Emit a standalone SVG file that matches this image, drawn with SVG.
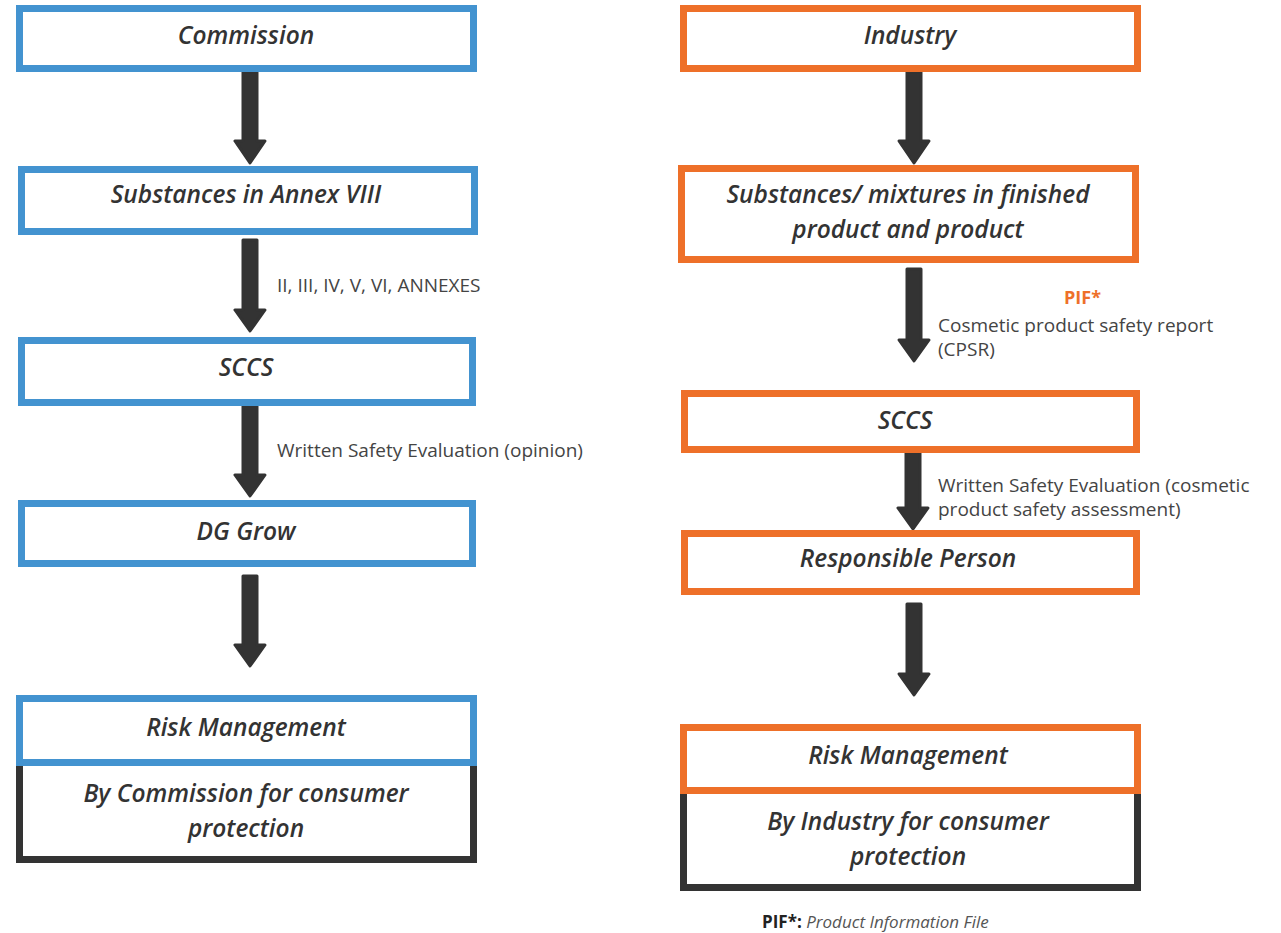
<svg xmlns="http://www.w3.org/2000/svg" width="1281" height="933" viewBox="0 0 1281 933">
<style>
.bg{fill:#ffffff}
.blue{fill:#ffffff;stroke:#4393d0;stroke-width:7}
.orange{fill:#ffffff;stroke:#ee7029;stroke-width:7}
.dark{fill:#ffffff;stroke:#333333;stroke-width:7}
.t{font-family:"Open Sans","Liberation Sans",sans-serif;font-style:italic;font-weight:600;font-size:24.5px;fill:#333333;text-anchor:middle}
.lbl{font-family:"Open Sans","Liberation Sans",sans-serif;font-size:19px;fill:#444444}
.pif{font-family:"Open Sans","Liberation Sans",sans-serif;font-size:18px;font-weight:700;fill:#ee7029}
.arrow{fill:#333333;stroke:#333333;stroke-width:3;stroke-linejoin:round}
</style>
<rect class="bg" x="0" y="0" width="1281" height="933"/>

<g id="connectors">
  <path class="arrow" d="M243,72 L257,72 L257,141 L265,141 L250,163 L235,141 L243,141 Z"/>
  <path class="arrow" d="M243,240 L257,240 L257,310 L265,310 L250,331 L235,310 L243,310 Z"/>
  <path class="arrow" d="M243,406 L257,406 L257,475 L265,475 L250,496 L235,475 L243,475 Z"/>
  <path class="arrow" d="M243,576 L257,576 L257,645 L265,645 L250,666 L235,645 L243,645 Z"/>
  <path class="arrow" d="M907,72 L921,72 L921,141 L929,141 L914,163 L899,141 L907,141 Z"/>
  <path class="arrow" d="M907,269 L921,269 L921,340 L929,340 L914,361 L899,340 L907,340 Z"/>
  <path class="arrow" d="M906,440 L920,440 L920,508 L928,508 L913,529 L898,508 L906,508 Z"/>
  <path class="arrow" d="M907,604 L921,604 L921,674 L929,674 L914,695 L899,674 L907,674 Z"/>
</g>

<g id="labels">
  <text class="lbl" x="277" y="292">II, III, IV, V, VI, ANNEXES</text>
  <text class="lbl" x="277" y="457">Written Safety Evaluation (opinion)</text>
  <text class="pif" x="1064" y="304">PIF*</text>
  <text class="lbl" x="938" y="332">Cosmetic product safety report</text>
  <text class="lbl" x="938" y="356">(CPSR)</text>
  <text class="lbl" x="938" y="492">Written Safety Evaluation (cosmetic</text>
  <text class="lbl" x="938" y="516">product safety assessment)</text>
</g>

<g id="commission">
  <rect class="blue" x="19.5" y="8.5" width="454" height="60"/>
  <text class="t" x="246" y="44">Commission</text>
</g>
<g id="annex-viii">
  <rect class="blue" x="21.5" y="169.5" width="453" height="62"/>
  <text class="t" x="246" y="203">Substances in Annex VIII</text>
</g>
<g id="sccs-left">
  <rect class="blue" x="21.5" y="340.5" width="451" height="62"/>
  <text class="t" x="246" y="376">SCCS</text>
</g>
<g id="dg-grow">
  <rect class="blue" x="21.5" y="503.5" width="451" height="60"/>
  <text class="t" x="246" y="540">DG Grow</text>
</g>
<g id="risk-left">
  <rect class="dark" x="19.5" y="762" width="454" height="97.5"/>
  <rect class="blue" x="19.5" y="698.5" width="454" height="64"/>
  <text class="t" x="246" y="736">Risk Management</text>
  <text class="t" x="246" y="802">By Commission for consumer</text>
  <text class="t" x="246" y="837">protection</text>
</g>

<g id="industry">
  <rect class="orange" x="683.5" y="8.5" width="454" height="60"/>
  <text class="t" x="910" y="44">Industry</text>
</g>
<g id="substances-mixtures">
  <rect class="orange" x="681.5" y="168.5" width="454" height="91"/>
  <text class="t" x="908" y="203">Substances/ mixtures in finished</text>
  <text class="t" x="908" y="238">product and product</text>
</g>
<g id="sccs-right">
  <rect class="orange" x="684.5" y="393.5" width="452" height="56"/>
  <text class="t" x="905" y="429">SCCS</text>
</g>
<g id="responsible-person">
  <rect class="orange" x="684.5" y="533.5" width="452" height="58"/>
  <text class="t" x="908" y="567">Responsible Person</text>
</g>
<g id="risk-right">
  <rect class="dark" x="683.5" y="790" width="454" height="97.5"/>
  <rect class="orange" x="683.5" y="727.5" width="454" height="63"/>
  <text class="t" x="908" y="764">Risk Management</text>
  <text class="t" x="908" y="830">By Industry for consumer</text>
  <text class="t" x="908" y="865">protection</text>
</g>

<g id="footnote">
  <text x="762" y="928" style="font-family:'Open Sans','Liberation Sans',sans-serif;font-size:17px;fill:#222222"><tspan font-weight="700">PIF*:</tspan><tspan font-style="italic" fill="#555555"> Product Information File</tspan></text>
</g>
</svg>
